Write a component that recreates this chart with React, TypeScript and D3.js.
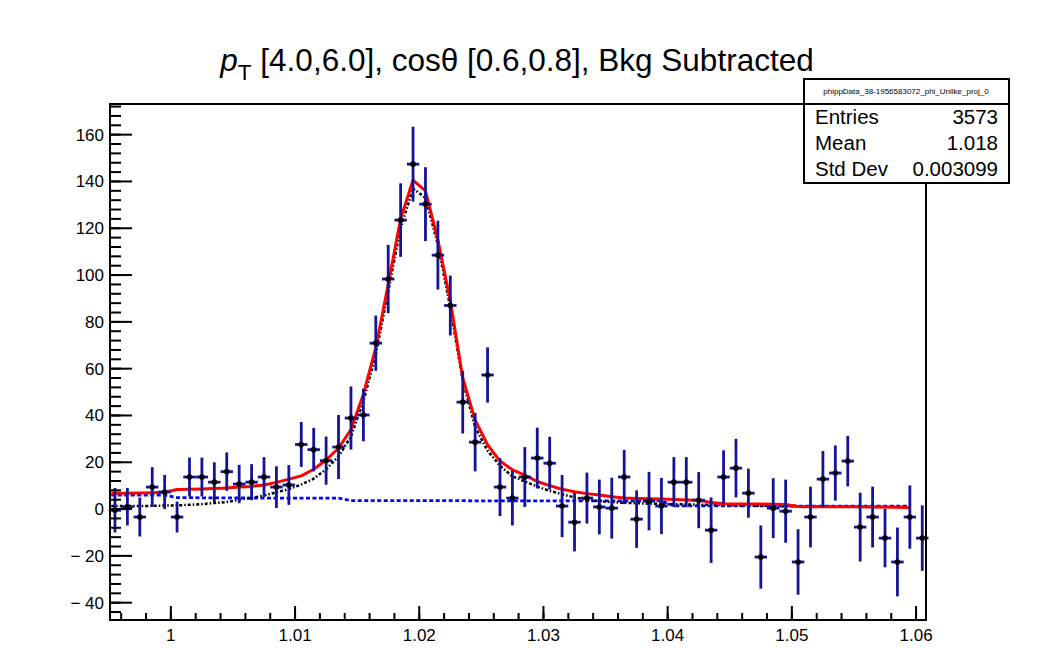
import React from 'react';
import * as d3 from 'd3';

const W = 1059;
const H = 649;

// histogram bins: width 0.001, centres 0.9955 ... 1.0605
const binCenters: number[] = d3.range(66).map((i) => +(0.9955 + i * 0.001).toFixed(4));

const counts: number[] = [
  -0.5, 1, -3.4, 9.4, 7.3, -3.4, 13.7, 13.7, 11.5, 16, 10.7, 11.5, 13.7, 9.4, 10.3,
  27.6, 25.4, 20.7, 26.5, 38.9, 40.2, 70.9, 98.3, 123.5, 147.4,
  130.3, 108.5, 87, 45.7, 28.6, 57.3, 9.4, 4.7, 13.7, 21.8,
  19.6, 1.3, -5.6, 4.7, 0.9, 0.4, 13.7, -4.3, 3.4, 1.3,
  11.5, 11.5, 3.8, -9, 13.7, 17.5, 6.8, -20.5, 0.4, -0.9,
  -22.6, -3.4, 12.8, 15.4, 20.5, -7.7, -3.4, -12.4, -22.6, -3.4, -12.4,
];

const errors: number[] = [
  9.5, 8, 8.3, 8.5, 7.3, 6.6, 8.3, 8.3, 8.5, 8.2, 8.2, 7.7, 8.5, 8.9, 8.5,
  9.6, 9.3, 10.3, 13.7, 13.5, 11.2, 11.8, 14.6, 15.7, 16,
  15.8, 14.7, 12.8, 13.4, 12.5, 11.8, 12.4, 11.7, 12.8, 13,
  11.3, 13.3, 12.5, 10.9, 11.7, 13, 11.6, 12.3, 12.5, 12,
  10.7, 10.7, 12, 14, 11.4, 12.5, 10.5, 13.5, 12.8, 13.5,
  14, 13, 12, 11.8, 10.8, 14.7, 13, 12.5, 14.7, 13.5, 14,
];

// fit curves sampled at bin centres 0.9955 ... 1.0595
const fitStartX = 0.9952;
const totalFit: number[] = [
  6.8, 6.8, 6.9, 7.0, 7.2, 8.4, 8.5, 8.6, 8.8, 9.0, 9.4, 9.7, 10.3, 11.4, 12.8,
  14.2, 17.0, 21.0, 26.0, 34.0, 49.0, 69.0, 96.0, 124.0, 140.6,
  136.0, 115.0, 89.0, 56.0, 38.0, 27.5, 20.5, 16.8, 14.5, 11.8,
  10.0, 8.5, 7.4, 6.6, 6.0, 5.3, 4.7, 4.5, 4.4, 4.3,
  4.1, 3.9, 3.8, 2.8, 2.3, 2.2, 2.2, 2.2, 2.1, 2.0,
  1.1, 1.0, 1.0, 1.0, 1.0, 1.0, 0.9, 0.9, 0.8, 0.6,
];

const signalFit: number[] = [
  1.3, 1.3, 1.3, 1.4, 1.5, 1.6, 1.8, 2.1, 2.6, 3.0, 4.0, 4.8, 5.8, 7.2, 8.5,
  10.5, 13.0, 17.0, 22.5, 31.0, 46.0, 66.0, 93.0, 120.0, 137.0,
  133.0, 113.0, 86.0, 55.0, 35.0, 25.0, 18.5, 14.0, 11.8, 9.6,
  7.8, 6.3, 5.0, 4.0, 3.4, 3.0, 2.7, 2.5, 2.3, 2.2,
  2.1, 2.0, 1.9, 1.8, 1.7, 1.6, 1.5, 1.4, 1.3, 1.2,
  1.1, 1.0, 1.0, 1.0, 1.0, 0.9, 0.9, 0.9, 0.9, 0.9,
];

const bkgFit: number[] = [
  6.0, 6.0, 6.0, 6.0, 6.0, 4.9, 4.9, 4.8, 4.8, 4.8, 4.8, 4.7, 4.7, 4.7, 4.7,
  4.7, 4.7, 4.7, 4.7, 3.6, 3.6, 3.6, 3.6, 3.6, 3.6,
  3.6, 3.6, 3.6, 3.6, 3.5, 3.5, 3.5, 3.5, 3.5, 3.5,
  3.5, 3.5, 3.5, 3.5, 3.5, 3.5, 3.5, 3.5, 3.5, 3.5,
  1.4, 1.4, 1.4, 1.4, 1.4, 1.4, 1.4, 1.4, 1.4, 1.4,
  1.3, 1.3, 1.3, 1.3, 1.3, 1.3, 1.3, 1.3, 1.3, 1.3,
];

const xTicks: number[] = [1, 1.01, 1.02, 1.03, 1.04, 1.05, 1.06];
const xTickLabels: string[] = ['1', '1.01', '1.02', '1.03', '1.04', '1.05', '1.06'];
const yTicks: number[] = [-40, -20, 0, 20, 40, 60, 80, 100, 120, 140, 160];

const histName = 'phippData_38-1956583072_phi_Unlike_proj_0';
const statNames: string[] = ['Entries', 'Mean', 'Std Dev'];
const statValues: string[] = ['3573', '1.018', '0.003099'];

const FONT = "'Liberation Sans', Arial, Helvetica, sans-serif";

export default function App() {
  const L = 110, R = 926, T = 104, B = 620;
  const x = d3.scaleLinear().domain([0.9951, 1.0608]).range([L, R]);
  const y = d3.scaleLinear().domain([-47.4, 173.1]).range([B, T]);
  const binW = x(1.001) - x(1.0);

  const minorX = d3.range(0.996, 1.0608, 0.002);
  const minorY = d3.range(-44, 173, 4);

  const mkLine = (vals: number[]) => {
    const pts: [number, number][] = [[fitStartX, vals[0]]];
    vals.forEach((v, i) => pts.push([binCenters[i], v]));
    return d3.line<[number, number]>().x((d) => x(d[0])).y((d) => y(d[1]))(pts) || '';
  };

  const navy = '#14149a';

  return (
    <svg width={W} height={H} style={{ position: 'absolute', left: 0, top: 0, background: '#fff' }} fontFamily={FONT}>
      <rect x={0} y={0} width={W} height={H} fill="#fff" />
      {/* title */}
      <text x={517} y={71} fontSize={31.5} textAnchor="middle" fill="#000">
        <tspan fontStyle="italic">p</tspan>
        <tspan dy={9} fontSize={22.5}>T</tspan>
        <tspan dy={-9}> [4.0,6.0], cosθ [0.6,0.8], Bkg Subtracted</tspan>
      </text>

      {/* curves */}
      <g fill="none">
        <path d={mkLine(bkgFit)} stroke="#0000ff" strokeWidth={2.8} strokeDasharray="4,2.5" />
        <path d={mkLine(signalFit)} stroke="#000" strokeWidth={2.5} strokeDasharray="3,2,1.5,2" />
        <path d={mkLine(totalFit)} stroke="#ff0000" strokeWidth={3} strokeLinejoin="round" />
      </g>

      {/* data points */}
      <g>
        {binCenters.map((c, i) => {
          const cx = x(c);
          const cy = y(counts[i]);
          return (
            <g key={i}>
              <line x1={cx} x2={cx} y1={y(counts[i] + errors[i])} y2={y(counts[i] - errors[i])} stroke={navy} strokeWidth={2.8} />
              <line x1={cx - binW / 2} x2={cx + binW / 2} y1={cy} y2={cy} stroke={navy} strokeWidth={2.8} />
              <circle cx={cx} cy={cy} r={2.8} fill="#000" />
            </g>
          );
        })}
      </g>

      {/* frame */}
      <rect x={L} y={T} width={R - L} height={B - T} fill="none" stroke="#000" strokeWidth={2} />

      {/* axis ticks */}
      <g stroke="#000" strokeWidth={2}>
        {minorX.map((v, i) => (
          <line key={'mx' + i} x1={x(v)} x2={x(v)} y1={B} y2={B - 7} />
        ))}
        {xTicks.map((v, i) => (
          <line key={'Mx' + i} x1={x(v)} x2={x(v)} y1={B} y2={B - 14} />
        ))}
        {minorY.map((v, i) => (
          <line key={'my' + i} x1={L} x2={L + 11} y1={y(v)} y2={y(v)} />
        ))}
        {yTicks.map((v, i) => (
          <line key={'My' + i} x1={L} x2={L + 22} y1={y(v)} y2={y(v)} />
        ))}
      </g>
      <g fontSize={17} fill="#000">
        {xTicks.map((v, i) => (
          <text key={'xl' + i} x={x(v)} y={641} textAnchor="middle">{xTickLabels[i]}</text>
        ))}
        {yTicks.map((v, i) => (
          <text key={'yl' + i} x={104} y={y(v) + 6} textAnchor="end">
            {v < 0 ? '\u2212 ' + Math.abs(v) : String(v)}
          </text>
        ))}
      </g>

      {/* stats box */}
      <g>
        <rect x={804} y={79} width={205} height={104} fill="#fff" stroke="#000" strokeWidth={2} />
        <line x1={804} x2={1009} y1={104} y2={104} stroke="#000" strokeWidth={2} />
        <text x={906} y={94} fontSize={8} textAnchor="middle">{histName}</text>
        {statNames.map((n, i) => (
          <g key={n}>
            <text x={815} y={124 + i * 26} fontSize={20.5}>{n}</text>
            <text x={998} y={124 + i * 26} fontSize={20.5} textAnchor="end">{statValues[i]}</text>
          </g>
        ))}
      </g>
    </svg>
  );
}
